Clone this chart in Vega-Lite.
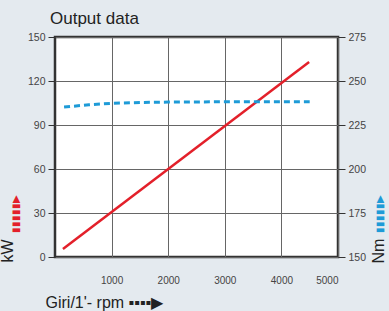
{
  "$schema": "https://vega.github.io/schema/vega-lite/v6.json",
  "width": 283,
  "height": 220,
  "autosize": {"type": "none"},
  "padding": {"left": 55, "top": 37, "right": 51, "bottom": 54},
  "background": "#e4eaef",
  "title": {"text": "Output data", "anchor": "start", "frame": "group", "dx": -5, "offset": 4, "fontSize": 17, "fontWeight": "normal", "font": "Liberation Sans", "color": "#222"},
  "config": {
    "view": {"fill": "white", "stroke": "#333", "strokeWidth": 2.5},
    "font": "Liberation Sans",
    "axis": {"labelFont": "Liberation Sans", "titleFont": "Liberation Sans", "titleFontWeight": "normal", "labelColor": "#444", "titleColor": "#222", "gridColor": "#666", "gridWidth": 1, "domain": false}
  },
  "datasets": {
    "power": [{"rpm": 140, "kW": 5.5}, {"rpm": 4490, "kW": 133}],
    "torque": [
      {"rpm": 160, "Nm": 235.2}, {"rpm": 600, "Nm": 236.5}, {"rpm": 1000, "Nm": 237.3}, {"rpm": 1500, "Nm": 237.8},
      {"rpm": 2000, "Nm": 238}, {"rpm": 3000, "Nm": 238.2}, {"rpm": 4000, "Nm": 238.2}, {"rpm": 4500, "Nm": 238.2}
    ]
  },
  "encoding": {
    "x": {"field": "rpm", "type": "quantitative", "scale": {"domain": [0, 5000], "nice": false},
      "axis": {"values": [1000, 2000, 3000, 4000, 5000], "format": "d", "ticks": false, "labelPadding": 18, "labelFontSize": 10, "grid": true,
        "title": "Giri/1'- rpm  ▪▪▪▪▶", "titleFontSize": 16, "titleAnchor": "start", "titleX": -10, "titleY": 50, "titleBaseline": "alphabetic"}}
  },
  "layer": [
    {
      "data": {"name": "power"},
      "mark": {"type": "line", "color": "#e3202a", "strokeWidth": 2.5},
      "encoding": {
        "y": {"field": "kW", "type": "quantitative", "scale": {"domain": [0, 150], "nice": false},
          "axis": {"values": [0, 30, 60, 90, 120, 150], "tickSize": 7, "tickColor": "#333", "labelPadding": 3, "labelFontSize": 10.5, "grid": true,
            "title": "kW", "titleFontSize": 16, "titleAnchor": "start", "titleX": -40, "titleY": 225}}
      }
    },
    {
      "data": {"name": "torque"},
      "mark": {"type": "line", "color": "#1e9bd7", "strokeWidth": 3, "strokeDash": [6, 4]},
      "encoding": {
        "y": {"field": "Nm", "type": "quantitative", "scale": {"domain": [150, 275], "nice": false, "zero": false},
          "axis": {"orient": "right", "values": [150, 175, 200, 225, 250, 275], "tickSize": 7, "tickColor": "#333", "labelPadding": 3, "labelFontSize": 10.5, "grid": false,
            "title": "Nm", "titleFontSize": 16, "titleAngle": -90, "titleAnchor": "start", "titleX": 48, "titleY": 226}}
      }
    },
    {
      "data": {"name": "power"},
      "mark": {"type": "line", "opacity": 0},
      "encoding": {
        "y": {"field": "kW", "type": "quantitative", "scale": {"domain": [0, 150], "nice": false},
          "axis": {"orient": "left", "ticks": false, "labels": false, "grid": false, "title": "▮▮▮▮▮▶", "titleColor": "#e3202a", "titleFontSize": 10, "titleAnchor": "start", "titleX": -35, "titleY": 195}}
      }
    },
    {
      "data": {"name": "torque"},
      "mark": {"type": "line", "opacity": 0},
      "encoding": {
        "y": {"field": "Nm", "type": "quantitative", "scale": {"domain": [150, 275], "nice": false, "zero": false},
          "axis": {"orient": "right", "ticks": false, "labels": false, "grid": false, "title": "▮▮▮▮▮▶", "titleColor": "#1e9bd7", "titleAngle": -90, "titleFontSize": 10, "titleAnchor": "start", "titleX": 46, "titleY": 195}}
      }
    }
  ],
  "resolve": {"scale": {"y": "independent"}}
}
